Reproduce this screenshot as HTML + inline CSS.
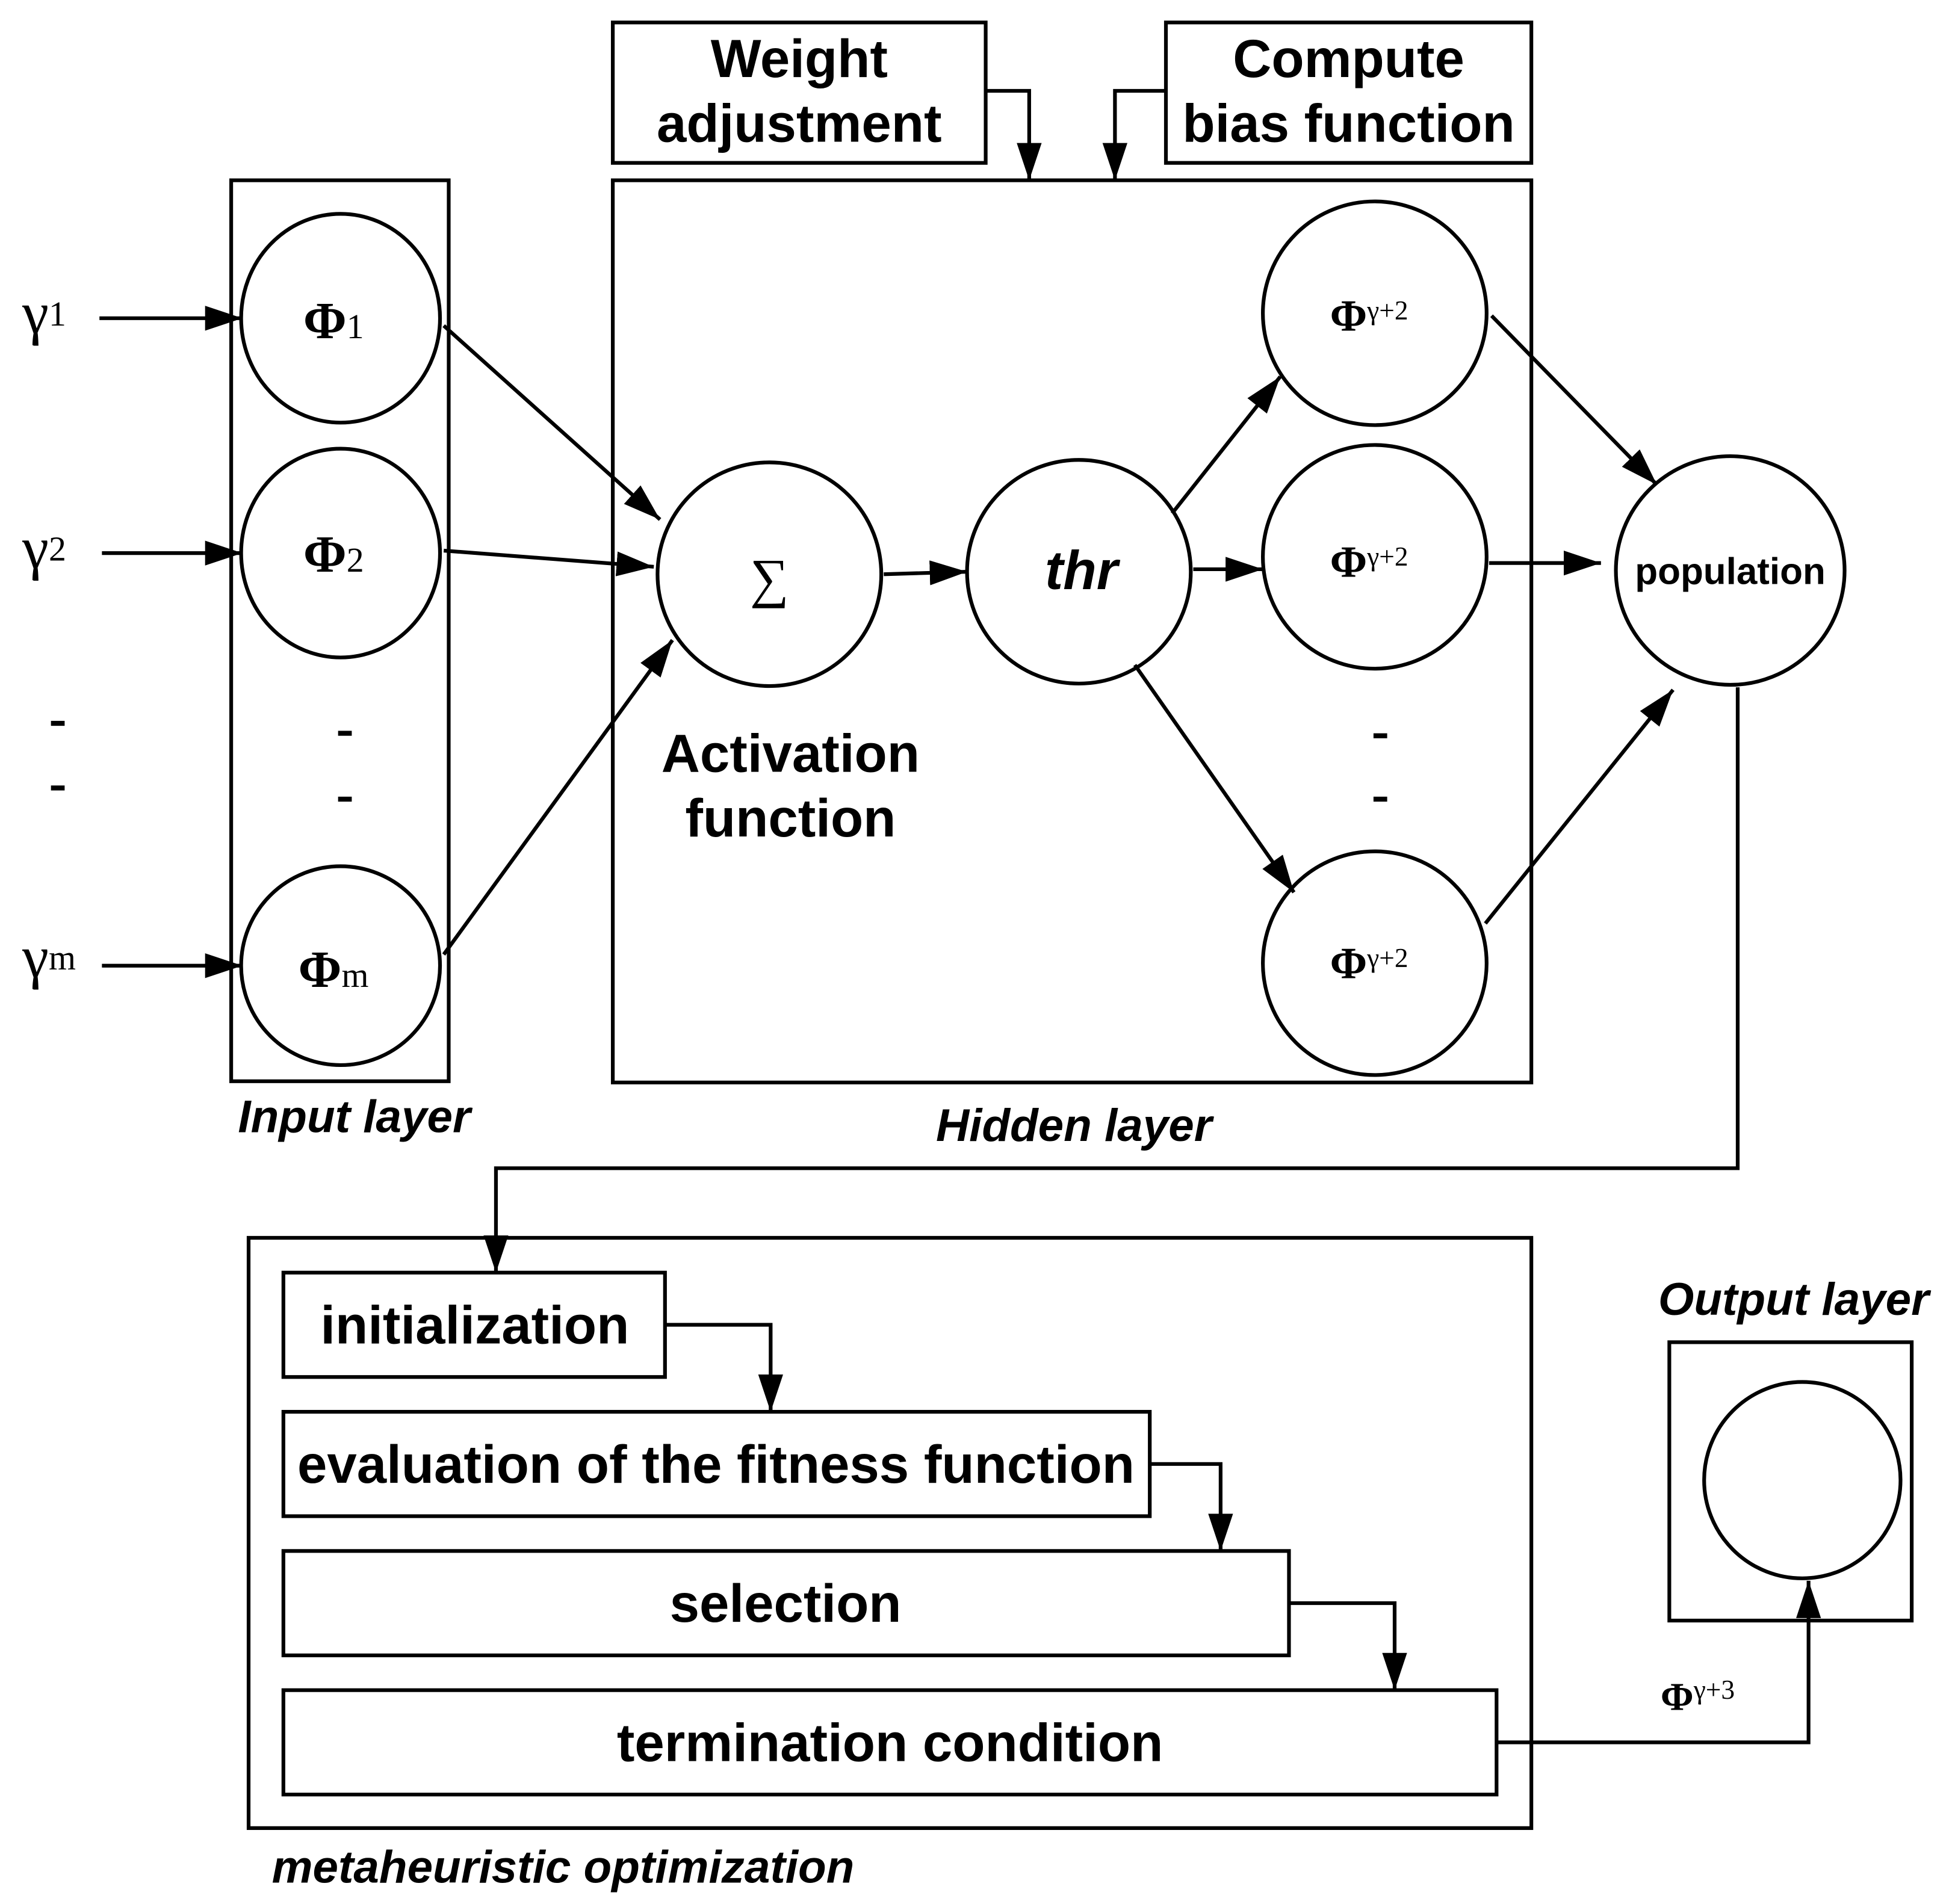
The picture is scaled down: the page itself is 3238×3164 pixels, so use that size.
<!DOCTYPE html>
<html><head><meta charset="utf-8"><style>
html,body{margin:0;padding:0;background:#fff;}
svg{display:block;}
.s{font-family:"Liberation Sans",sans-serif;font-weight:bold;}
.r{font-family:"Liberation Serif",serif;}
</style></head><body>
<svg width="3238" height="3164" viewBox="0 0 1568 1532" xmlns="http://www.w3.org/2000/svg">
<defs>
<marker id="b" viewBox="0 0 30 20" refX="30" refY="10" markerWidth="30" markerHeight="20" orient="auto" markerUnits="userSpaceOnUse"><path d="M0,0 L30,10 L0,20z" fill="#000"/></marker></defs>
<g fill="none" stroke="#000" stroke-width="3">
<rect x="493" y="18" width="300" height="113"/>
<rect x="938" y="18" width="294" height="113"/>
<rect x="493" y="145" width="739" height="726"/>
<rect x="186" y="145" width="175" height="725"/>
<ellipse cx="274" cy="256" rx="80" ry="84"/>
<ellipse cx="274" cy="445" rx="80" ry="84"/>
<ellipse cx="274" cy="777" rx="80" ry="80"/>
<circle cx="619" cy="462" r="90"/>
<circle cx="868" cy="460" r="90"/>
<circle cx="1106" cy="252" r="90"/>
<circle cx="1106" cy="448" r="90"/>
<circle cx="1106" cy="775" r="90"/>
<circle cx="1392" cy="459" r="92"/>
<rect x="1343" y="1080" width="195" height="224"/>
<circle cx="1450" cy="1191" r="79"/>
<rect x="200" y="996" width="1032" height="475"/>
<rect x="228" y="1024" width="307" height="84"/>
<rect x="228" y="1136" width="697" height="84"/>
<rect x="228" y="1248" width="809" height="84"/>
<rect x="228" y="1360" width="976" height="84"/>
<g marker-end="url(#b)">
<polyline points="793,73 828,73 828,145"/>
<polyline points="938,73 897,73 897,145"/>
<line x1="80" y1="256" x2="195" y2="256"/>
<line x1="82" y1="445" x2="195" y2="445"/>
<line x1="82" y1="777" x2="195" y2="777"/>
<line x1="357" y1="262" x2="531" y2="418"/>
<line x1="357" y1="443" x2="526" y2="456"/>
<line x1="357" y1="768" x2="541" y2="515"/>
<line x1="711" y1="462" x2="778" y2="460"/>
<line x1="943" y1="413" x2="1030" y2="303"/>
<line x1="960" y1="458" x2="1016" y2="458"/>
<line x1="913" y1="535" x2="1041" y2="718"/>
<line x1="1200" y1="254" x2="1333" y2="390"/>
<line x1="1198" y1="453" x2="1288" y2="453"/>
<line x1="1195" y1="743" x2="1346" y2="555"/>
<polyline points="1398,553 1398,940 399,940 399,1024"/>
<polyline points="535,1066 620,1066 620,1136"/>
<polyline points="925,1178 982,1178 982,1248"/>
<polyline points="1037,1290 1122,1290 1122,1360"/>
<polyline points="1204,1402 1455,1402 1455,1272"/>
</g>
</g>
<g class="s" font-size="43" text-anchor="middle">
<text x="643" y="62">Weight</text><text x="643" y="114">adjustment</text>
<text x="1085" y="62">Compute</text><text x="1085" y="114">bias function</text>
<text x="636" y="621">Activation</text><text x="636" y="673">function</text>
<text x="382" y="1081">initialization</text>
<text x="576" y="1193">evaluation of the fitness function</text>
<text x="632" y="1305">selection</text>
<text x="716" y="1417">termination condition</text>
<text x="870" y="474" font-style="italic" font-size="44">thr</text>
<text x="1392" y="470" font-size="30">population</text>
</g>
<g class="s" font-size="37" font-style="italic" text-anchor="middle">
<text x="285" y="911">Input layer</text>
<text x="864" y="918">Hidden layer</text>
<text x="453" y="1515">metaheuristic optimization</text>
<text x="1443" y="1058">Output layer</text>
</g>
<g class="r" font-size="48">
<text x="18" y="268">γ<tspan font-size="28" dy="-6">1</tspan></text>
<text x="18" y="457">γ<tspan font-size="28" dy="-6">2</tspan></text>
<text x="18" y="786">γ<tspan font-size="28" dy="-6">m</tspan></text>
<text x="244" y="272" font-weight="bold" font-size="42">Φ<tspan font-size="28" font-weight="normal">1</tspan></text>
<text x="244" y="460" font-weight="bold" font-size="42">Φ<tspan font-size="28" font-weight="normal">2</tspan></text>
<text x="240" y="794" font-weight="bold" font-size="42">Φ<tspan font-size="28" font-weight="normal">m</tspan></text>
<text x="1070" y="266" font-weight="bold" font-size="36">Φ<tspan font-size="22" dy="-9" font-weight="normal">γ+2</tspan></text>
<text x="1070" y="464" font-weight="bold" font-size="36">Φ<tspan font-size="22" dy="-9" font-weight="normal">γ+2</tspan></text>
<text x="1070" y="787" font-weight="bold" font-size="36">Φ<tspan font-size="22" dy="-9" font-weight="normal">γ+2</tspan></text>
<text x="1336" y="1376" font-weight="bold" font-size="32">Φ<tspan font-size="22" dy="-9" font-weight="normal">γ+3</tspan></text>
<text x="619" y="480" text-anchor="middle" font-size="44">∑</text>
</g>
<g fill="#000">
<rect x="41" y="580" width="11" height="4"/><rect x="41" y="632" width="11" height="4"/>
<rect x="272" y="588" width="11" height="4"/><rect x="272" y="641" width="11" height="4"/>
<rect x="1105" y="590" width="11" height="4"/><rect x="1105" y="641" width="11" height="4"/>
</g>
</svg>
</body></html>
